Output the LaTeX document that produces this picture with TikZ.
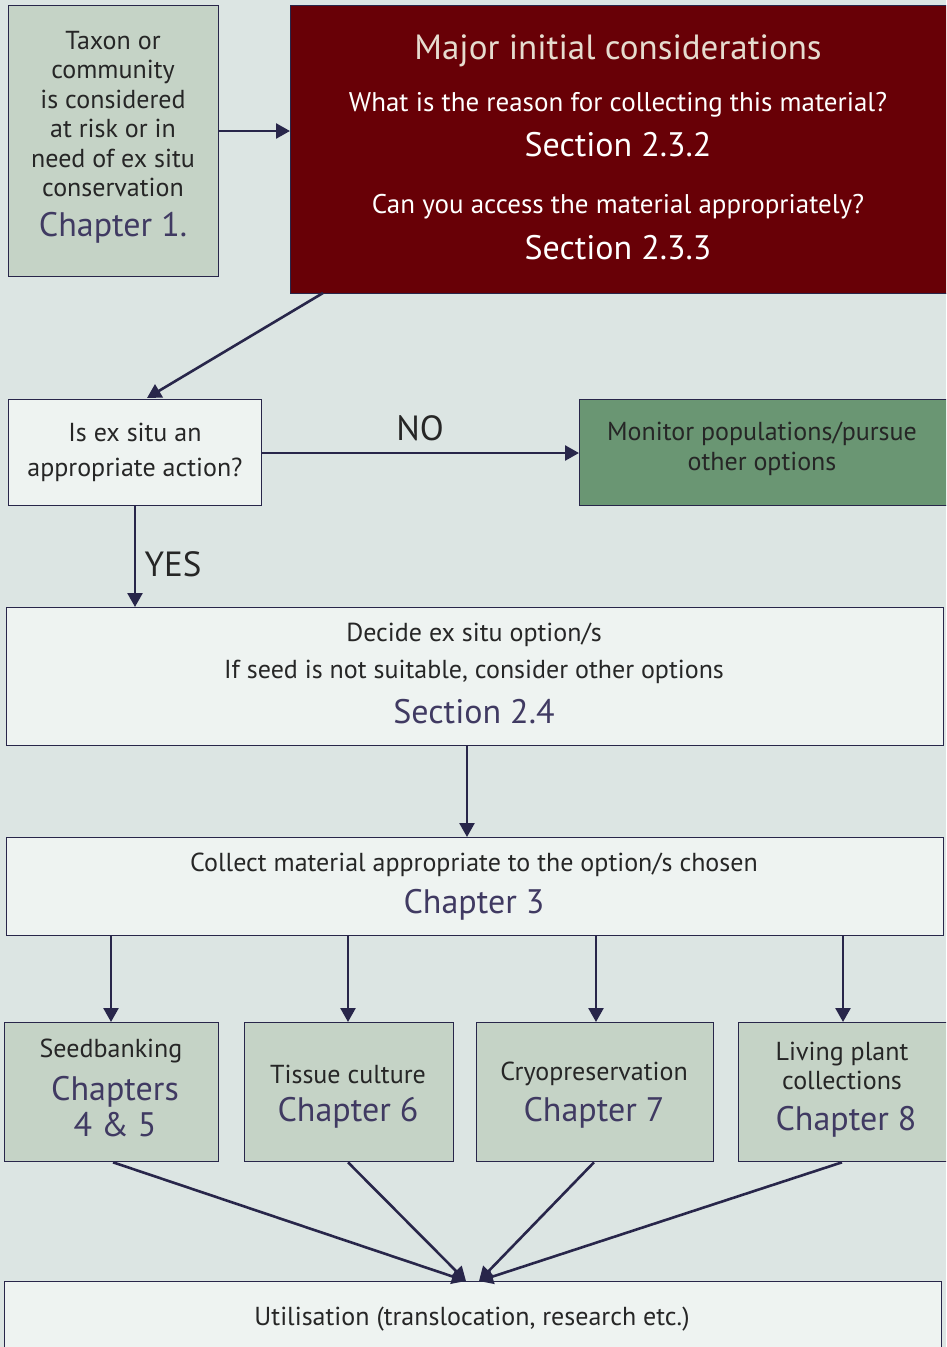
\documentclass[tikz,border=0pt]{standalone}
\usepackage{fontspec}
\setmainfont{PT Sans}
\usetikzlibrary{arrows.meta}
\definecolor{bg}{HTML}{DCE5E3}
\definecolor{sage}{HTML}{C5D3C6}
\definecolor{darkred}{HTML}{680006}
\definecolor{pale}{HTML}{EEF3F1}
\definecolor{green}{HTML}{6A9673}
\definecolor{navy}{HTML}{28264A}
\definecolor{chap}{HTML}{403A62}
\definecolor{beige}{HTML}{E6DCCF}
\definecolor{txt}{HTML}{262626}
\begin{document}
\begin{tikzpicture}[x=1pt,y=-1pt,
  box/.style={draw=navy, line width=1.3pt, inner sep=0pt, anchor=north west},
  arr/.style={draw=navy, line width=2.6pt, -{Triangle[length=14pt,width=15pt]}},
  body/.style={font=\fontsize{26}{29.5}\selectfont, text=txt, align=center, inner sep=0pt},
  chapt/.style={font=\fontsize{34}{36}\selectfont, text=chap, align=center, inner sep=0pt},
  wbody/.style={font=\fontsize{27}{29}\selectfont, text=white, inner sep=0pt},
  wsec/.style={font=\fontsize{34}{36}\selectfont, text=white, inner sep=0pt},
  lbl/.style={font=\fontsize{35}{38}\selectfont, text=txt, inner sep=0pt}]
\useasboundingbox (0,0) rectangle (946,1347);
\fill[bg] (0,0) rectangle (946,1347);
\clip (0,0) rectangle (946,1347);

% boxes
\node[box, fill=sage, minimum width=210pt, minimum height=271pt] (taxon) at (8,5) {};
\node[box, fill=darkred, minimum width=660pt, minimum height=288pt] (major) at (290,5) {};
\node[box, fill=pale, minimum width=253pt, minimum height=106pt] (isex) at (8,399) {};
\node[box, fill=green, minimum width=372pt, minimum height=106pt] (monitor) at (579,399) {};
\node[box, fill=pale, minimum width=937pt, minimum height=138pt] (decide) at (6,607) {};
\node[box, fill=pale, minimum width=937pt, minimum height=98pt] (collect) at (6,837) {};
\node[box, fill=sage, minimum width=214pt, minimum height=139pt] (seed) at (4,1022) {};
\node[box, fill=sage, minimum width=209pt, minimum height=139pt] (tissue) at (244,1022) {};
\node[box, fill=sage, minimum width=237pt, minimum height=139pt] (cryo) at (476,1022) {};
\node[box, fill=sage, minimum width=212pt, minimum height=139pt] (living) at (738,1022) {};
\node[box, fill=pale, minimum width=937pt, minimum height=100pt] (util) at (4,1281) {};

% texts
\node[body] (taxontxt) at (113,114) {Taxon or\\community\\is considered\\at risk or in\\need of ex situ\\conservation};
\node[chapt] (taxonch) at (113,228) {Chapter 1.};

\node[font=\fontsize{35}{38}\selectfont, text=beige, inner sep=0pt] (majtitle) at (618,51) {Major initial considerations};
\node[wbody] (q1) at (618,105) {What is the reason for collecting this material?};
\node[wsec] (s1) at (618,145) {Section 2.3.2};
\node[wbody] (q2) at (618,207) {Can you access the material appropriately?};
\node[wsec] (s2) at (618,248) {Section 2.3.3};

\node[body, font=\fontsize{26}{35}\selectfont] (isextxt) at (135,452) {Is ex situ an\\appropriate action?};
\node[body, font=\fontsize{26}{30}\selectfont] (montxt) at (762,449) {Monitor populations/pursue\\other options};

\node[lbl] (no) at (420,428) {NO};
\node[lbl] (yes) at (173,564) {YES};

\node[body] (d1) at (474,635) {Decide ex situ option/s};
\node[body] (d2) at (474,672) {If seed is not suitable, consider other options};
\node[chapt] (d3) at (474,712) {Section 2.4};

\node[body] (c1) at (474,865) {Collect material appropriate to the option/s chosen};
\node[chapt] (c2) at (474,905) {Chapter 3};

\node[body] (seed1) at (111,1051) {Seedbanking};
\node[chapt] (seed2) at (115,1107) {Chapters\\4 \& 5};
\node[body] (tis1) at (348,1074) {Tissue culture};
\node[chapt] (tis2) at (348,1113) {Chapter 6};
\node[body] (cry1) at (594,1074) {Cryopreservation};
\node[chapt] (cry2) at (594,1113) {Chapter 7};
\node[body] (liv1) at (842,1066) {Living plant\\collections};
\node[chapt] (liv2) at (846,1122) {Chapter 8};

\node[body] (utiltxt) at (472,1319) {Utilisation (translocation, research etc.)};

% connector endpoints
\coordinate (majbot) at (323,293);
\coordinate (isextop) at (147,398);
\coordinate (u1) at (466,1281);
\coordinate (u2) at (479,1281);

% connectors
\draw[arr] (taxon.east |- 0,131) -- (major.west |- 0,131);
\draw[arr] (majbot) -- (isextop);
\draw[arr] (isex.east |- 0,453) -- (monitor.west |- 0,453);
\draw[arr] (isex.south -| 135,0) -- (decide.north -| 135,0);
\draw[arr] (decide.south -| 467,0) -- (collect.north -| 467,0);
\draw[arr] (collect.south -| 111,0) -- (seed.north -| 111,0);
\draw[arr] (collect.south -| 348,0) -- (tissue.north -| 348,0);
\draw[arr] (collect.south -| 596,0) -- (cryo.north -| 596,0);
\draw[arr] (collect.south -| 843,0) -- (living.north -| 843,0);
\draw[arr] (seed.south -| 113,0) -- (u1);
\draw[arr] (tissue.south -| 348,0) -- (u1);
\draw[arr] (cryo.south -| 594,0) -- (u2);
\draw[arr] (living.south -| 842,0) -- (u2);
\end{tikzpicture}
\end{document}
